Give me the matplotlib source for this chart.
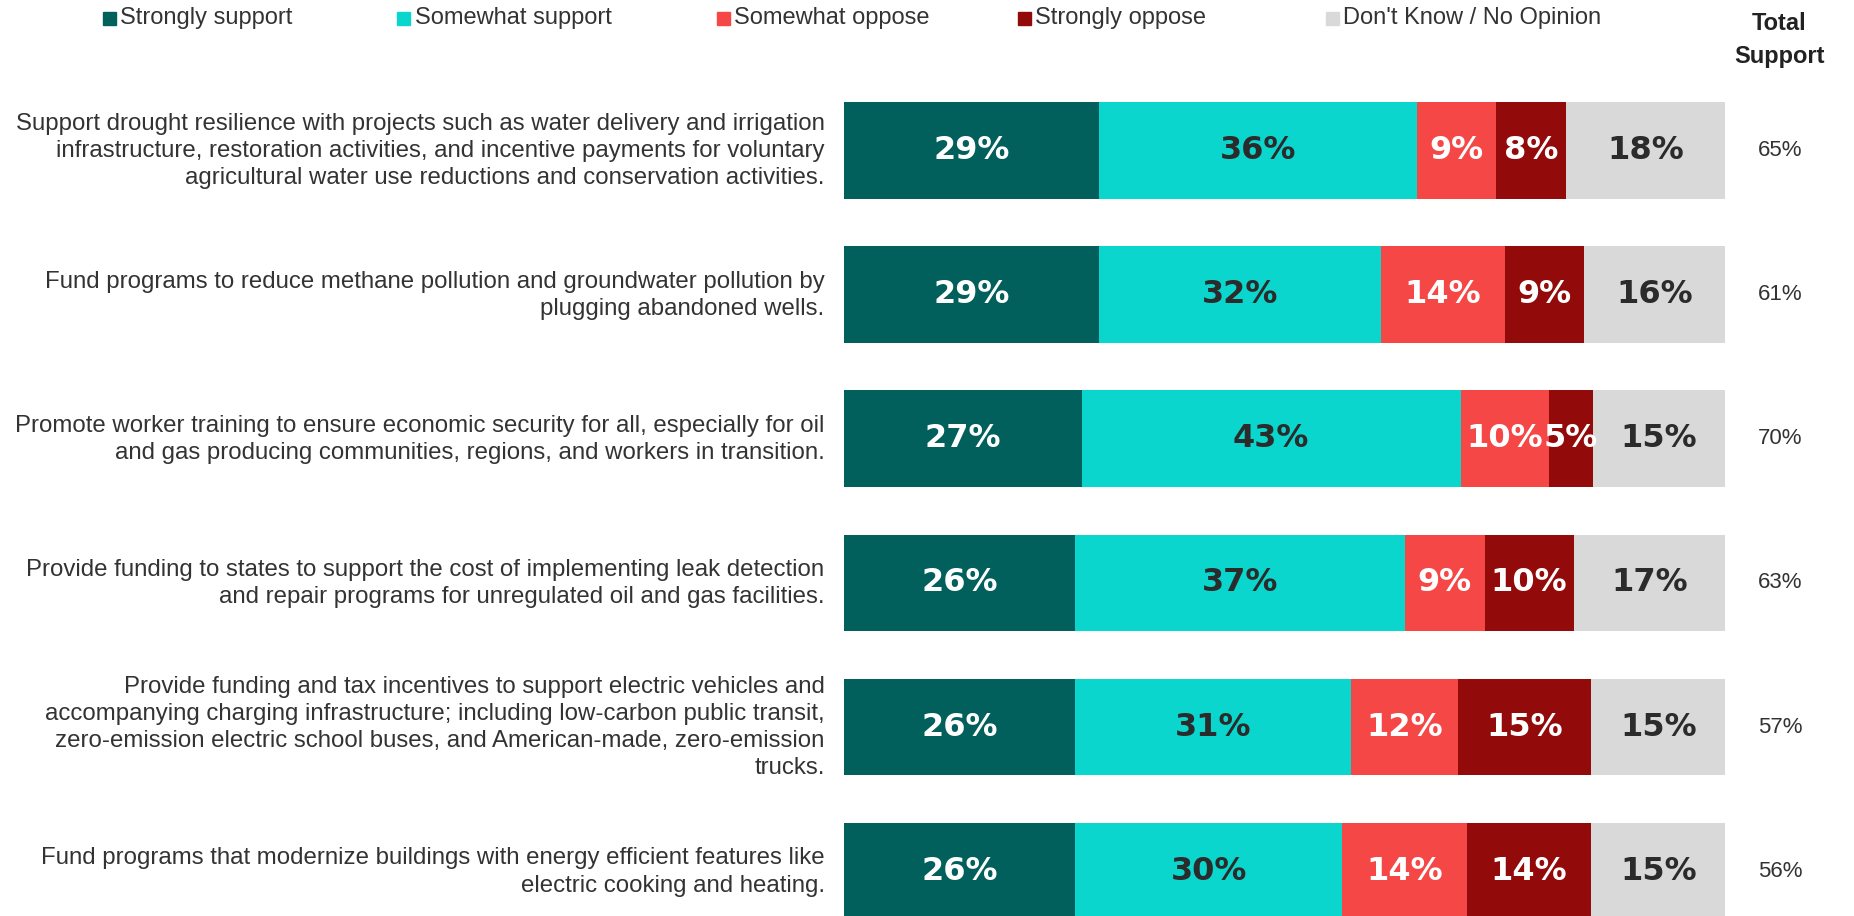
import numpy as np
import matplotlib.pyplot as plt
from matplotlib.patches import Rectangle
import matplotlib.transforms as mtransforms

# datos
preguntas = [
    "Support drought resilience with projects such as water delivery and irrigation\n"
    "infrastructure, restoration activities, and incentive payments for voluntary\n"
    "agricultural water use reductions and conservation activities.",
    "Fund programs to reduce methane pollution and groundwater pollution by\n"
    "plugging abandoned wells.",
    "Promote worker training to ensure economic security for all, especially for oil\n"
    "and gas producing communities, regions, and workers in transition.",
    "Provide funding to states to support the cost of implementing leak detection\n"
    "and repair programs for unregulated oil and gas facilities.",
    "Provide funding and tax incentives to support electric vehicles and\n"
    "accompanying charging infrastructure; including low-carbon public transit,\n"
    "zero-emission electric school buses, and American-made, zero-emission\n"
    "trucks.",
    "Fund programs that modernize buildings with energy efficient features like\n"
    "electric cooking and heating.",
]
categorias = ["Strongly support", "Somewhat support", "Somewhat oppose",
              "Strongly oppose", "Don't Know / No Opinion"]
strongly_support = [29, 29, 27, 26, 26, 26]
somewhat_support = [36, 32, 43, 37, 31, 30]
somewhat_oppose = [9, 14, 10, 9, 12, 14]
strongly_oppose = [8, 9, 5, 10, 15, 14]
no_opinion = [18, 16, 15, 17, 15, 15]
total_support = ["65%", "61%", "70%", "63%", "57%", "56%"]

colores = ["#015F5C", "#0BD6CD", "#F64747", "#930A0A", "#D9D9D9"]
col_texto = ["white", "#2B2B2B", "white", "white", "#2B2B2B"]

series = np.array([strongly_support, somewhat_support, somewhat_oppose,
                   strongly_oppose, no_opinion], dtype=float)
anchos = series / series.sum(axis=0) * 100  # barras al 100%

plt.rcParams['font.family'] = ["Liberation Sans", "DejaVu Sans"]

fig = plt.figure(figsize=(18.54, 9.16), dpi=100)
ax = fig.add_axes([0.4552, 0.0, 0.4752, 0.9187])

y = np.arange(len(preguntas))
izq = np.zeros(len(preguntas))
for i in range(len(categorias)):
    ax.barh(y, anchos[i], left=izq, height=0.67, color=colores[i],
            label=categorias[i])
    for j in range(len(preguntas)):
        ax.text(izq[j] + anchos[i][j] / 2, y[j], f"{int(series[i][j])}%",
                ha="center", va="center", fontsize=23, fontweight="bold",
                color=col_texto[i], family="DejaVu Sans")
    izq += anchos[i]

ax.set_xlim(0, 100)
ax.set_ylim(5.31, -0.525)
ax.set_yticks([])
ax.set_xticks([])
for s in ax.spines.values():
    s.set_visible(False)

# textos de cada pregunta, alineados a la derecha
tr_izq = mtransforms.blended_transform_factory(ax.transAxes, ax.transData)
for j in range(len(preguntas)):
    ax.text(-0.022, y[j] + 0.005, preguntas[j], transform=tr_izq, ha="right",
            va="center", multialignment="right", fontsize=17.25,
            color="#333333", linespacing=1.3)

# columna de total support
trans = mtransforms.blended_transform_factory(fig.transFigure, ax.transData)
for j in range(len(preguntas)):
    ax.text(0.960, y[j], total_support[j], transform=trans, ha="center",
            va="center", fontsize=16, color="#333333")
fig.text(0.9598, 0.987, "Total\nSupport", ha="center", va="top", fontsize=17,
         fontweight="bold", color="#222222", linespacing=1.55)

# leyenda arriba
leg_x = [0.0555, 0.2143, 0.3865, 0.5491, 0.7150]
leg_y = 0.980
for k in range(len(categorias)):
    fig.add_artist(Rectangle((leg_x[k], leg_y - 0.0072), 0.0070, 0.0142,
                             transform=fig.transFigure, color=colores[k]))
    fig.text(leg_x[k] + 0.0093, leg_y, categorias[k], ha="left", va="center",
             fontsize=17, color="#333333")

fig.savefig("out.png", dpi=100)
